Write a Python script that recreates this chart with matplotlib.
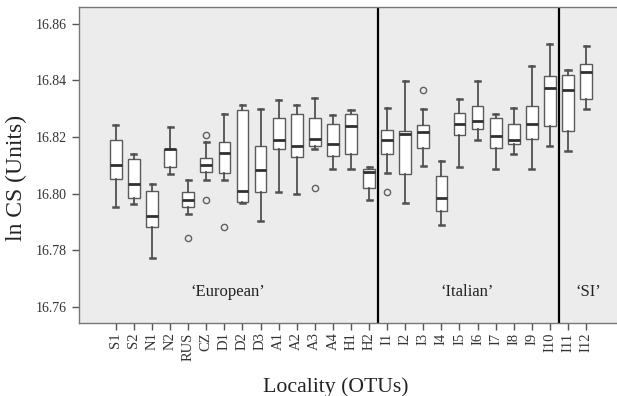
import matplotlib
matplotlib.use("Agg")
import matplotlib.pyplot as plt

# localities (OTUs)
labels = ['S1', 'S2', 'N1', 'N2', 'RUS', 'CZ', 'D1', 'D2', 'D3', 'A1', 'A2', 'A3',
          'A4', 'H1', 'H2', 'I1', 'I2', 'I3', 'I4', 'I5', 'I6', 'I7', 'I8', 'I9',
          'I10', 'I11', 'I12']

# box statistics (ln CS)
whislo = [16.7951, 16.7965, 16.7773, 16.8068, 16.7929, 16.8047, 16.8047, 16.7967, 16.7902,
          16.8006, 16.8000, 16.8156, 16.8088, 16.8088, 16.7979, 16.8074, 16.7967, 16.8096,
          16.7888, 16.8094, 16.8188, 16.8088, 16.8141, 16.8088, 16.8168, 16.8149, 16.8300]
q1 = [16.8053, 16.7986, 16.7882, 16.8094, 16.7951, 16.8076, 16.8074, 16.7970, 16.8006,
      16.8159, 16.8128, 16.8168, 16.8133, 16.8139, 16.8021, 16.8139, 16.8068, 16.8162,
      16.7937, 16.8208, 16.8229, 16.8162, 16.8176, 16.8194, 16.8238, 16.8221, 16.8333]
med = [16.8102, 16.8035, 16.7920, 16.8156, 16.7976, 16.8100, 16.8145, 16.8008, 16.8082,
       16.8188, 16.8168, 16.8192, 16.8174, 16.8239, 16.8076, 16.8188, 16.8209, 16.8218,
       16.7986, 16.8247, 16.8255, 16.8202, 16.8188, 16.8247, 16.8373, 16.8367, 16.8429]
q3 = [16.8188, 16.8121, 16.8009, 16.8156, 16.8006, 16.8127, 16.8182, 16.8294, 16.8168,
      16.8267, 16.8280, 16.8267, 16.8245, 16.8280, 16.8088, 16.8225, 16.8221, 16.8241,
      16.8061, 16.8286, 16.8308, 16.8267, 16.8245, 16.8308, 16.8415, 16.8418, 16.8459]
whishi = [16.8241, 16.8141, 16.8035, 16.8235, 16.8047, 16.8182, 16.8282, 16.8314, 16.8300,
          16.8332, 16.8312, 16.8337, 16.8279, 16.8297, 16.8094, 16.8303, 16.8396, 16.8300,
          16.8115, 16.8333, 16.8396, 16.8280, 16.8303, 16.8450, 16.8527, 16.8438, 16.8520]
outliers = [[], [], [], [], [16.7845], [16.8208, 16.7979], [16.7882], [], [],
            [], [], [16.8020], [], [], [], [16.8006], [], [16.8365],
            [], [], [], [], [], [], [], [], []]

groups = ['\u2018European\u2019', '\u2018Italian\u2019', '\u2018SI\u2019']
group_sizes = [15, 10, 2]
group_label_x = [7.17, 20.4, 27.1]

plt.rcParams['font.family'] = ['Liberation Serif', 'DejaVu Serif']

fig = plt.figure(figsize=(6.17, 3.96), dpi=100)
ax = fig.add_axes([0.128, 0.185, 0.872, 0.7966])
ax.set_facecolor('#ececec')

stats = []
for i, lab in enumerate(labels):
    stats.append(dict(label=lab, whislo=whislo[i], q1=q1[i], med=med[i],
                      q3=q3[i], whishi=whishi[i], fliers=outliers[i]))

pos = list(range(1, len(labels) + 1))
ax.bxp(stats, positions=pos, widths=0.65, capwidths=0.28, patch_artist=True,
       boxprops=dict(facecolor='white', edgecolor='#5a5a5a', linewidth=1.0),
       whiskerprops=dict(color='#505050', linewidth=1.3),
       capprops=dict(color='#505050', linewidth=1.8),
       medianprops=dict(color='#303030', linewidth=2.0),
       flierprops=dict(marker='o', markerfacecolor='none', markeredgecolor='#606060',
                       markersize=4.5, markeredgewidth=1.0))

# group separators and labels
edge = 0.5
for n in group_sizes[:-1]:
    edge += n
    ax.axvline(edge, color='black', linewidth=1.6)
for g, x in zip(groups, group_label_x):
    ax.text(x, 16.7653, g, ha='center', va='center', fontsize=12, color='#222222')

ax.set_xlim(-1.04, 28.71)
ax.set_ylim(16.7544, 16.8658)
ax.set_yticks([16.76, 16.78, 16.80, 16.82, 16.84, 16.86])
ax.set_yticklabels(['16.76', '16.78', '16.80', '16.82', '16.84', '16.86'],
                   fontsize=10, color='#333333')
ax.set_xticks(pos)
ax.set_xticklabels(labels, rotation=90, fontsize=10.5, color='#333333')
ax.tick_params(axis='both', length=5, width=1, color='#555555')
ax.tick_params(axis='x', pad=2)

for s in ['left', 'bottom', 'top']:
    ax.spines[s].set_color('#777777')
    ax.spines[s].set_linewidth(1.0)
ax.spines['right'].set_visible(False)

ax.set_ylabel('ln CS (Units)', fontsize=17, color='#222222')
ax.yaxis.set_label_coords(-0.096, 0.459)
ax.set_xlabel('Locality (OTUs)', fontsize=15.7, color='#222222')
ax.xaxis.set_label_coords(0.477, -0.172)

fig.savefig('out.png', dpi=100)
